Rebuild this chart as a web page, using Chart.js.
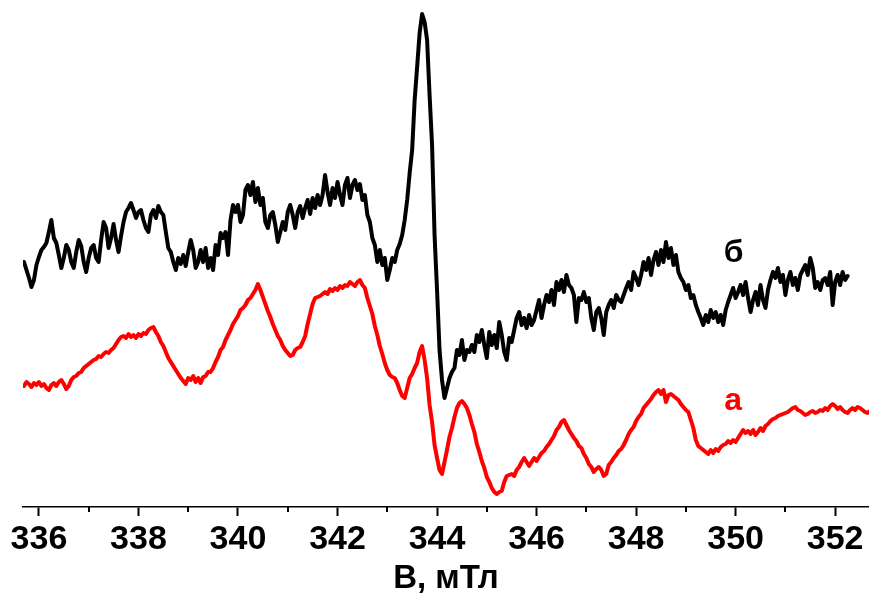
<!DOCTYPE html>
<html>
<head>
<meta charset="utf-8">
<script src="https://cdn.jsdelivr.net/npm/chart.js@4.4.1/dist/chart.umd.min.js"></script>
<style>
  html, body { margin: 0; padding: 0; background: #ffffff; overflow: hidden; }
  canvas { display: block; }
</style>
</head>
<body>
<canvas id="epr" width="869" height="599"></canvas>
<script>
// Field sweep: first point and step, mT
const sweepStart = 335.70;
const sweepStep = 0.05;

// Spectrum "а" (red), arbitrary units, vertically offset
const signalA = [
  121,125,123,120,124,122,125,121,123,119,117,122,124,121,125,127,123,118,121,127,
  130,131,134,135,139,141,143,145,147,148,151,150,153,155,154,157,159,163,167,170,
  171,169,173,170,172,169,173,171,174,173,177,179,180,175,171,165,161,155,149,145,
  141,137,133,129,126,123,129,127,131,125,129,124,130,131,135,135,139,145,150,157,
  160,167,172,177,183,187,191,197,199,202,207,209,213,217,223,217,210,203,196,190,
  183,177,171,167,161,157,154,151,152,157,159,160,165,171,183,193,203,209,210,211,
  213,215,213,218,216,219,217,221,219,222,221,225,223,221,225,227,222,219,209,201,
  193,181,172,161,153,144,137,132,130,129,124,117,111,109,119,129,133,139,144,155,
  161,147,129,102,85,62,49,37,33,45,57,70,79,90,99,104,106,103,99,92,
  83,75,63,55,46,39,30,25,19,15,13,15,16,25,31,32,33,31,37,40,
  45,49,45,41,45,49,46,50,54,56,60,63,67,71,77,80,85,87,82,77,
  73,69,66,61,59,53,49,43,40,35,38,40,37,31,33,42,45,49,52,56,
  58,62,67,73,77,80,86,90,93,99,102,105,108,112,115,117,113,117,105,112,
  113,111,109,107,103,100,97,95,87,79,67,61,59,57,55,53,57,54,58,56,
  60,62,63,66,64,67,65,69,73,77,74,76,73,77,72,75,79,76,81,83,
  86,88,89,91,92,93,94,95,97,99,100,97,96,94,92,93,95,96,94,95,
  97,96,99,97,101,103,101,98,100,97,95,94,97,99,97,100,99,97,95,94,96
];

// Spectrum "б" (black), arbitrary units, vertically offset
const signalB = [
  245,237,229,220,227,242,250,257,260,264,275,287,269,264,252,239,249,262,257,245,
  239,255,267,261,245,235,249,259,262,249,245,267,285,279,259,269,283,267,255,271,
  285,295,299,304,297,289,295,297,287,279,275,292,297,289,301,295,292,275,259,255,
  245,237,249,243,252,241,255,267,257,239,245,257,245,259,239,249,237,262,252,274,
  269,275,252,287,302,295,302,285,292,317,322,312,325,305,319,302,309,285,279,292,
  295,282,265,275,285,277,295,302,292,279,295,301,289,299,307,293,309,299,312,302,
  312,332,315,302,319,309,325,312,302,322,329,309,322,327,317,323,307,312,292,285,
  269,262,245,257,242,249,227,237,249,245,257,263,272,287,307,334,357,407,440,474,
  493,485,467,412,362,272,217,157,127,109,119,129,135,139,157,152,167,147,157,155,
  162,155,172,165,177,162,149,175,162,172,159,185,172,155,147,169,165,177,189,195,
  182,189,179,192,182,187,197,207,189,202,212,205,217,202,225,217,227,215,232,222,
  219,212,185,209,207,215,205,209,189,177,195,199,189,172,195,202,207,199,212,207,
  205,212,219,225,217,235,229,222,232,245,237,249,232,247,255,242,257,245,265,249,
  259,242,252,235,229,225,217,222,209,212,202,195,189,182,192,185,197,189,195,185,
  192,182,197,205,212,219,209,215,222,212,225,209,195,207,215,202,222,207,199,217,
  227,235,229,239,225,232,212,227,235,222,229,217,232,237,242,232,249,239,219,225,
  217,227,229,222,235,202,225,232,222,235,227,231
];

// Axis tick values, mT
const majorTicks = [336, 338, 340, 342, 344, 346, 348, 350, 352];
const minorTicks = [337, 339, 341, 343, 345, 347, 349, 351];

const FONT_FAMILY = '"Liberation Sans", Arial, Helvetica, sans-serif';

function toPoints(values) {
  return values.map((v, i) => ({ x: +(sweepStart + i * sweepStep).toFixed(2), y: v }));
}

// Short ticks between the labelled ones
const minorTickPlugin = {
  id: 'minorTicks',
  afterDraw(chart) {
    const s = chart.scales.x;
    const ctx = chart.ctx;
    ctx.save();
    ctx.strokeStyle = '#000';
    ctx.lineWidth = 2;
    minorTicks.forEach(v => {
      const px = Math.round(s.getPixelForValue(v));
      ctx.beginPath();
      ctx.moveTo(px, s.top);
      ctx.lineTo(px, s.top + 5);
      ctx.stroke();
    });
    ctx.restore();
  }
};

// Curve names written next to each spectrum
const curveNamePlugin = {
  id: 'curveNames',
  afterDatasetsDraw(chart, args, opts) {
    const ctx = chart.ctx;
    const xs = chart.scales.x, ys = chart.scales.y;
    ctx.save();
    ctx.font = 'bold 32px ' + FONT_FAMILY;
    ctx.textAlign = 'center';
    ctx.textBaseline = 'alphabetic';
    opts.items.forEach(it => {
      ctx.fillStyle = it.color;
      ctx.fillText(it.text, xs.getPixelForValue(it.x), ys.getPixelForValue(it.y));
    });
    ctx.restore();
  }
};

new Chart(document.getElementById('epr'), {
  type: 'line',
  data: {
    datasets: [
      {
        label: 'б',
        data: toPoints(signalB),
        borderColor: '#000000',
        borderWidth: 4,
        pointRadius: 0,
        tension: 0,
        borderJoinStyle: 'round',
        borderCapStyle: 'round'
      },
      {
        label: 'а',
        data: toPoints(signalA),
        borderColor: '#ff0000',
        borderWidth: 4,
        pointRadius: 0,
        tension: 0,
        borderJoinStyle: 'round',
        borderCapStyle: 'round'
      }
    ]
  },
  options: {
    responsive: false,
    devicePixelRatio: 1,
    animation: false,
    layout: { padding: { left: 23, right: 0, top: 0, bottom: 0 } },
    plugins: {
      legend: { display: false },
      tooltip: { enabled: false },
      curveNames: {
        items: [
          { text: 'б', x: 349.96, y: 245, color: '#000000' },
          { text: 'а', x: 349.95, y: 97, color: '#ff0000' }
        ]
      }
    },
    scales: {
      x: {
        type: 'linear',
        position: 'bottom',
        min: 335.68,
        max: 352.68,
        afterBuildTicks: scale => { scale.ticks = majorTicks.map(v => ({ value: v })); },
        afterFit: scale => { scale.height = 92; },
        grid: {
          drawOnChartArea: false,
          drawTicks: true,
          tickLength: 9,
          tickWidth: 2,
          tickColor: '#000000'
        },
        border: { display: true, color: '#000000', width: 1.5 },
        ticks: {
          color: '#000000',
          padding: 3,
          maxRotation: 0,
          autoSkip: false,
          font: { family: FONT_FAMILY, size: 34, weight: 'bold' },
          callback: v => String(v)
        },
        title: {
          display: true,
          text: 'B, мТл',
          color: '#000000',
          padding: { top: 0, bottom: 0 },
          font: { family: FONT_FAMILY, size: 33, weight: 'bold' }
        }
      },
      y: {
        display: false,
        min: 0,
        max: 507
      }
    }
  },
  plugins: [minorTickPlugin, curveNamePlugin]
});
</script>
</body>
</html>
